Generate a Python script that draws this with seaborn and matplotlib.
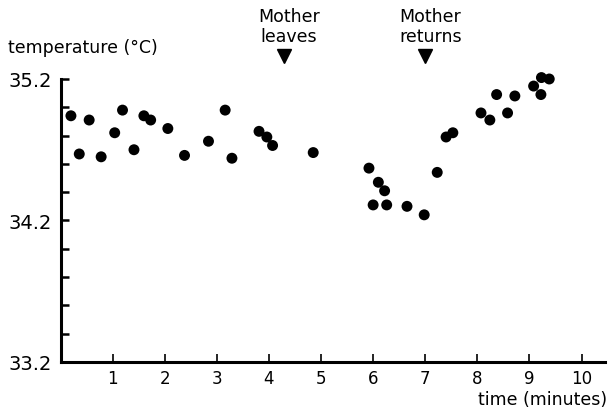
import numpy as np
import pandas as pd
import matplotlib
matplotlib.use("Agg")
import matplotlib.pyplot as plt
import matplotlib.transforms as mtransforms
from matplotlib.ticker import FixedLocator
import seaborn as sns

# ---- data ----
time_min = [0.20, 0.36, 0.55, 0.78, 1.04, 1.19, 1.41, 1.60, 1.73, 2.06,
            2.38, 2.84, 3.16, 3.29, 3.81, 3.96, 4.07, 4.85, 5.92, 6.10,
            6.22, 6.00, 6.26, 6.65, 6.98, 7.23, 7.40, 7.53, 8.07, 8.24,
            8.37, 8.58, 8.72, 9.08, 9.22, 9.23, 9.38]
temperature = [34.94, 34.67, 34.91, 34.65, 34.82, 34.98, 34.70, 34.94, 34.91, 34.85,
               34.66, 34.76, 34.98, 34.64, 34.83, 34.79, 34.73, 34.68, 34.57, 34.47,
               34.41, 34.31, 34.31, 34.30, 34.24, 34.54, 34.79, 34.82, 34.96, 34.91,
               35.09, 34.96, 35.08, 35.15, 35.09, 35.21, 35.20]
event_times = [4.28, 7.0]
event_labels = ["Mother\nleaves", "Mother\nreturns"]
y_major_ticks = [33.2, 34.2, 35.2]
y_major_labels = ["33.2", "34.2", "35.2"]
x_ticks = [1, 2, 3, 4, 5, 6, 7, 8, 9, 10]
x_tick_labels = ["1", "2", "3", "4", "5", "6", "7", "8", "9", "10"]

df = pd.DataFrame({"time": time_min, "temp": temperature})

sns.set_style("ticks")
plt.rcParams["font.family"] = ["DejaVu Sans"]
plt.rcParams["text.color"] = "black"

fig = plt.figure(figsize=(6.10, 4.14), dpi=100)
ax = fig.add_axes([0.0992, 0.1232, 0.8926, 0.6836])

sns.scatterplot(data=df, x="time", y="temp", ax=ax, color="black",
                s=62, edgecolor="none", linewidth=0, legend=False, clip_on=False)

ax.set_xlim(0, 10.45)
ax.set_ylim(33.2, 35.2)

ax.xaxis.set_major_locator(FixedLocator(x_ticks))
ax.set_xticklabels(x_tick_labels)
ax.yaxis.set_major_locator(FixedLocator(y_major_ticks))
ax.set_yticklabels(y_major_labels)
ax.yaxis.set_minor_locator(FixedLocator(list(np.round(np.arange(33.2, 35.21, 0.2), 2))))

ax.tick_params(axis="x", which="major", direction="in", length=6, width=1.2,
               labelsize=12, pad=5, color="black", labelcolor="black")
ax.tick_params(axis="y", which="both", direction="in", length=6, width=1.8,
               labelsize=14, pad=6, color="black", labelcolor="black")
ax.tick_params(axis="y", which="minor", labelleft=False)

sns.despine(ax=ax)
for sp in ["left", "bottom"]:
    ax.spines[sp].set_linewidth(2.2)
    ax.spines[sp].set_color("black")

ax.set_xlabel("")
ax.set_ylabel("")

fig.text(0.013, 0.884, "temperature (\u00b0C)", fontsize=12.5, ha="left", va="center",
         color="black")
fig.text(0.995, 0.034, "time (minutes)", fontsize=12.5, ha="right", va="center",
         color="black")

trans = mtransforms.blended_transform_factory(ax.transData, fig.transFigure)
for t, lab in zip(event_times, event_labels):
    ax.plot([t], [0.862], marker="v", color="black", ms=10, transform=trans,
            clip_on=False, linestyle="none")
    ax.text(t + 0.1, 0.935, lab, transform=trans, ha="center", va="center",
            fontsize=12.5, linespacing=1.15, color="black")

fig.savefig("out.png", dpi=100)
